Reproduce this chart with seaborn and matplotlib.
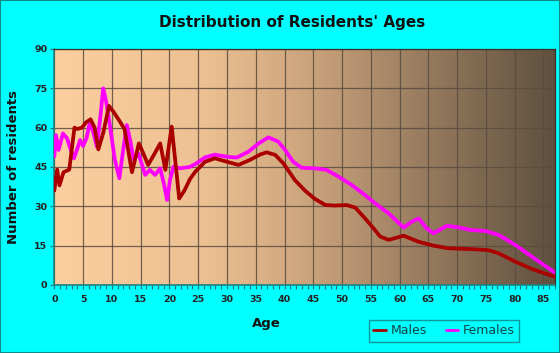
import numpy as np
import pandas as pd
import matplotlib
matplotlib.use("Agg")
import matplotlib.pyplot as plt
from matplotlib.patches import Rectangle
from matplotlib.lines import Line2D
import seaborn as sns

# ---- data ----
male_age = [0, 0.5, 0.9, 1.6, 2.6, 3.5, 4.0, 4.8, 5.5, 6.3,
            7.0, 7.65, 8.5, 9.5, 10.3, 11.2, 12.2, 13.5, 14.7, 15.5,
            16.3, 17.4, 18.4, 19.3, 20.4, 21.7, 22.6, 23.6, 24.5, 26.2,
            27.9, 30, 32, 34, 35.8, 36.9, 38.4, 39.8, 41, 41.8,
            43.6, 45.3, 47.1, 48.8, 50.8, 52.3, 54, 55.7, 56.6, 58.1,
            60.7, 63.3, 65.9, 68.5, 72.3, 75.4, 77.2, 80.1, 83, 86.9]
male_cnt = [36, 44, 38, 43, 44, 60, 59.5, 60, 62, 63.2,
            60, 51.7, 58, 68.3, 66, 63, 59.5, 43, 54, 50,
            45.8, 50, 54, 43.9, 60.4, 33, 36, 40.5, 43.2, 47,
            48.3, 47, 45.8, 47.7, 49.8, 50.6, 49.6, 46.4, 42.6, 40,
            35.9, 32.8, 30.5, 30.3, 30.5, 29.5, 25.4, 21, 18.5, 17.2,
            18.8, 16.5, 15, 14, 13.7, 13.3, 12.1, 8.9, 6.1, 3.2]

female_age = [0, 0.3, 0.75, 1.5, 2.2, 2.8, 3.4, 4.0, 4.5, 5.0,
              5.6, 6.2, 6.8, 7.4, 8.0, 8.5, 9.0, 9.7, 10.5, 11.3,
              12.0, 12.6, 13.2, 13.8, 14.6, 15.8, 16.6, 17.5, 18.4, 19.0,
              19.6, 20.1, 20.7, 21.8, 23.5, 24.5, 26.2, 27.9, 30, 31.7,
              33.7, 35.5, 37.2, 38.9, 40.1, 41.5, 43, 45.3, 47.3, 49.4,
              51.7, 54, 55.7, 58.1, 60.7, 62.1, 63.3, 64.7, 65.9, 68.2,
              70.2, 72.3, 74.9, 77.2, 80.1, 83, 85.9, 86.9]
female_cnt = [49, 57.2, 51.5, 57.8, 56, 52, 48.3, 52, 55.3, 53,
              56, 62.3, 58, 52.7, 64, 75, 70, 60.4, 48, 40.7,
              52, 61, 55, 47.7, 50.2, 42, 43.9, 42, 44.5, 39,
              32.4, 40, 45.1, 44.5, 45, 46.1, 48.7, 49.7, 48.9, 48.6,
              50.8, 54, 56.3, 54.7, 51.5, 47, 44.7, 44.5, 43.9, 41.3,
              38.1, 34.3, 31.2, 27.3, 21.9, 24.1, 25.4, 21.6, 19.7, 22.6,
              22, 21, 20.6, 19.1, 15.3, 10.8, 6.4, 4.8]

x_ticks = list(range(0, 90, 5))
y_ticks = [0, 15, 30, 45, 60, 75, 90]
series_names = ["Males", "Females"]
series_colors = ["#AA0000", "#FF00FF"]

title = "Distribution of Residents' Ages"
xlabel = "Age"
ylabel = "Number of residents"

# ---- figure ----
sns.set_theme(style="white")
plt.rcParams["font.family"] = ["DejaVu Sans"]

W, H = 560, 353
fig = plt.figure(figsize=(W / 100, H / 100), dpi=100)
fig.patch.set_facecolor("#00FFFF")
fig.patches.append(Rectangle((0, 0), 1, 1, transform=fig.transFigure,
                             fill=False, edgecolor="#108a8a", linewidth=1.5))

x0, x1, y0, y1 = 54.3, 555, 49, 285
ax = fig.add_axes([x0 / W, 1 - y1 / H, (x1 - x0) / W, (y1 - y0) / H])

# gradient background
stops = np.array([[253, 207, 160], [236, 192, 146], [205, 165, 125],
                  [160, 130, 100], [95, 80, 62]]) / 255.0
pos = np.array([0.0, 0.3, 0.5, 0.7, 1.0])
t = np.linspace(0, 1, 300)
grad = np.stack([np.interp(t, pos, stops[:, c]) for c in range(3)], axis=-1)[None, :, :]
ax.imshow(grad, extent=[0, 87, 0, 90], aspect="auto", zorder=0, interpolation="bilinear")

df_m = pd.DataFrame({"age": male_age, "count": male_cnt})
df_f = pd.DataFrame({"age": female_age, "count": female_cnt})
sns.lineplot(data=df_f, x="age", y="count", ax=ax, color=series_colors[1],
             linewidth=2.7, estimator=None, sort=False, zorder=3,
             solid_joinstyle="round", solid_capstyle="round")
sns.lineplot(data=df_m, x="age", y="count", ax=ax, color=series_colors[0],
             linewidth=2.7, estimator=None, sort=False, zorder=4,
             solid_joinstyle="round", solid_capstyle="round")

ax.set_xlim(0, 87)
ax.set_ylim(0, 90)
ax.set_xticks(x_ticks)
ax.set_xticks(range(0, 88), minor=True)
ax.set_yticks(y_ticks)
ax.set_axisbelow(True)
ax.grid(True, which="major", color="#5a4c40", linewidth=0.9, alpha=0.85)
ax.grid(False, which="minor")
ax.set_xlabel("")
ax.set_ylabel("")

tick_font = dict(fontsize=6.8, fontweight="bold", color="#222222")
ax.set_xticklabels([str(v) for v in x_ticks], **tick_font)
ax.set_yticklabels([str(v) for v in y_ticks], **tick_font)
ax.tick_params(axis="x", which="both", direction="out", length=3, width=0.8,
               color="#207878", bottom=True, pad=4)
ax.tick_params(axis="y", which="major", direction="out", length=3, width=0.8,
               color="#207878", left=True, pad=2)

for side in ["left", "bottom"]:
    ax.spines[side].set_color("#208080")
    ax.spines[side].set_linewidth(1.2)
for side in ["top", "right"]:
    ax.spines[side].set_color("#3a3028")
    ax.spines[side].set_linewidth(0.9)

fig.text(292 / W, 1 - 23 / H, title, ha="center", va="center",
         fontsize=11, fontweight="bold", color="#111111")
fig.text(266 / W, 1 - 323 / H, xlabel, ha="center", va="center",
         fontsize=9.5, fontweight="bold", color="#111111")
fig.text(14 / W, 1 - 167 / H, ylabel, ha="center", va="center", rotation=90,
         fontsize=9.5, fontweight="bold", color="#111111")

handles = [Line2D([], [], color=c, linewidth=2) for c in series_colors]
leg = fig.legend(handles, series_names, loc="center", ncol=2,
                 bbox_to_anchor=(444 / W, 1 - 331 / H), bbox_transform=fig.transFigure,
                 frameon=True, fancybox=False, fontsize=9, handlelength=1.0,
                 handletextpad=0.4, columnspacing=1.5, borderpad=0.35,
                 labelcolor="#114444")
leg.get_frame().set_facecolor("#00FFFF")
leg.get_frame().set_edgecolor("#108080")
leg.get_frame().set_linewidth(1.0)

fig.savefig("out.png", dpi=100, facecolor=fig.get_facecolor())
